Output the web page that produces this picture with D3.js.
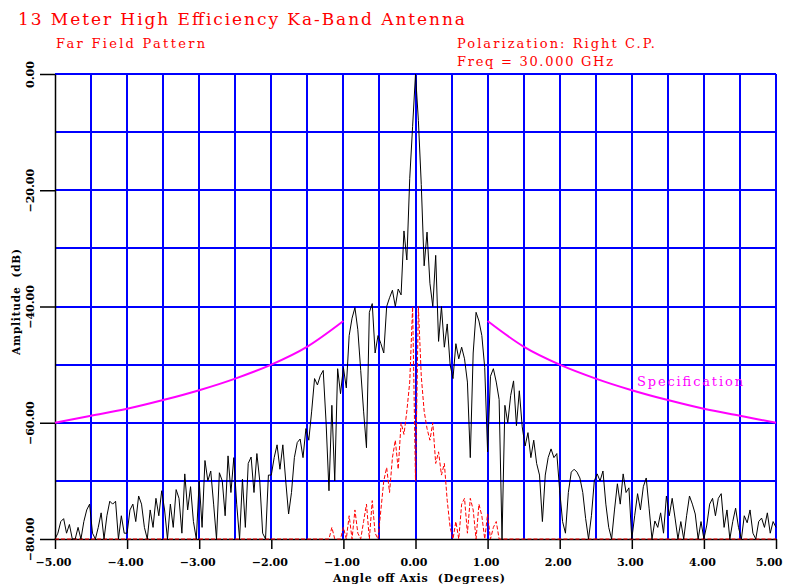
<!DOCTYPE html>
<meta charset="utf-8">
<script src="https://d3js.org/d3.v7.min.js"></script>
<style>
  body { margin: 0; background: #fff; }
  svg { display: block; }
</style>
<div id="chart"></div>
<script>
// axis ticks
const xTicks = [-5, -4, -3, -2, -1, 0, 1, 2, 3, 4, 5];
const yTicks = [0, -20, -40, -60, -80];

// co-pol far field pattern (dB), one sample every 0.04 deg starting at -5 deg
const coStart = -5, coStep = 0.04;
const coDb = [
  -80,-79,-77,-76.5,-79,-77.5,-80,-80,-78,-80,-77,-75,-74,-79,-80,-78,-75.5,-80,-76,-73.5,-74,-73.5,-80,-76,-79,
  -79,-75,-74,-77,-72.6,-74,-78,-80,-75,-78,-73,-76,-71.7,-75,-80,-74,-78,-71.5,-73,-79,-68.8,-75,-71,-77,-80,
  -70,-78,-66.5,-70,-68.3,-74,-80,-68.6,-70,-76,-65.7,-72,-66,-74,-80,-69.7,-78,-67,-65.9,-72,-65.3,-70,-79,-80,-69,
  -69,-66,-63.8,-68,-63.8,-70,-75.7,-72,-66,-63.4,-62.8,-66,-61,-63,-58,-52.4,-53.5,-51.9,-51,-60,-71.7,-57,-70,-50.7,-55,
  -50.5,-54,-45,-42,-40.2,-44,-51,-58,-64.3,-41,-39.5,-48,-45,-46.4,-48,-40,-38.5,-37.2,-40,-37,-38,-27,-32,-18,-9,0,
  -8,-19,-33,-27.2,-36,-40,-31.2,-46,-40,-47,-43,-50,-52.4,-46.4,-49,-47,-49,-53,-66,-48,-41,-42.5,-45,-50.5,-65,
  -52,-50.7,-53,-56,-80,-57,-60,-55.3,-52.8,-60.5,-54.5,-60.7,-64,-61.7,-66,-63,-67,-69,-77,-69,-66,-64.5,-66,-65.3,-71.7,
  -77,-79,-72,-68.5,-68,-68.5,-69.5,-72,-76.5,-80,-76,-70,-68.8,-70,-68.3,-74,-78,-80,-75,-70.5,-74,-68.8,-72,-71.2,-80,
  -76,-72.2,-75,-71,-69.5,-74.7,-80,-76.9,-78,-75.5,-79,-72.6,-76,-73,-76.4,-80,-77,-80,-76,-72.6,-74,-75.7,-80,-77,-80,
  -77.6,-74,-73,-76,-73,-72.2,-78,-75,-80,-77,-74.7,-78,-80,-76,-77.2,-75,-79,-80,-77,-76.4,-78,-75.5,-79,-77,-78
];

// cross-pol pattern (dB), every 0.04 deg from -1.2 to 1.2, floor elsewhere
const crossStart = -1.2, crossStep = 0.04, crossFloor = -80;
const crossDb = [
  -80,-78,-80,-80,-80,-78,-80,-76,-80,-75,-79,-80,-77,-74,-80,-73.4,-79,-80,-75,-70,-67.7,-72,-66,-63,-68,-60,-62,-58,-53,-40,
  -70,
  -40,-52,-58,-61,-63,-60,-67,-65,-69,-67,-73.4,-78,-80,-77,-80,-74,-73,-79,-73,-75,-80,-74,-76,-80,-75.7,-80,-78,-77,-80,-80
];

// specification envelope (dB) vs |angle|
const specAngle = [1, 1.5, 2, 2.5, 3, 3.5, 4, 4.5, 5];
const specDb = [-42.5, -46.9, -50.0, -52.4, -54.4, -56.1, -57.6, -58.8, -60.0];

const W = 786, H = 586;
const svg = d3.select("#chart").append("svg")
  .attr("width", W).attr("height", H)
  .style("background", "#fff");

const x = d3.scaleLinear().domain([-5, 5]).range([55, 776]);
const y = d3.scaleLinear().domain([-80, 0]).range([539, 74]);

const serif = "'DejaVu Serif', 'Liberation Serif', serif";

// blue grid
const grid = svg.append("g").attr("stroke", "#0000ff").attr("stroke-width", 2)
  .attr("shape-rendering", "crispEdges");
grid.selectAll("line.v").data(x.ticks(20).filter(d => d > -5))
  .join("line").attr("class", "v")
  .attr("x1", d => x(d)).attr("x2", d => x(d))
  .attr("y1", y(0)).attr("y2", y(-80));
grid.selectAll("line.h").data(y.ticks(8).filter(d => d > -80))
  .join("line").attr("class", "h")
  .attr("x1", x(-5)).attr("x2", x(5))
  .attr("y1", d => y(d)).attr("y2", d => y(d));

// axes
const xAxis = svg.append("g")
  .attr("transform", `translate(0,${y(-80)})`)
  .call(d3.axisBottom(x).tickValues(xTicks).tickSize(10).tickSizeOuter(0)
    .tickPadding(9).tickFormat(d3.format(".2f")));
const yAxis = svg.append("g")
  .attr("transform", `translate(${x(-5)},0)`)
  .call(d3.axisLeft(y).tickValues(yTicks).tickSize(15).tickSizeOuter(0)
    .tickFormat(d3.format(".2f")));

[xAxis, yAxis].forEach(g => {
  g.select(".domain").attr("stroke", "#000").attr("stroke-width", 1.5);
  g.selectAll(".tick line").attr("stroke", "#000").attr("stroke-width", 1.5);
  g.selectAll("text").attr("fill", "#000")
    .style("font-family", serif).style("font-weight", "bold").style("font-size", "11px");
});
xAxis.selectAll(".tick text").attr("dx", -2);
xAxis.selectAll(".tick:last-of-type text").attr("text-anchor", "end").attr("dx", 6);
yAxis.selectAll(".tick text")
  .attr("transform", "rotate(-90)")
  .attr("x", 0).attr("y", -21).attr("dy", 0)
  .attr("text-anchor", "middle");

// specification curve, both sides
const specLine = d3.line().curve(d3.curveMonotoneX)
  .x(d => x(d[0])).y(d => y(d[1]));
const specRight = specAngle.map((a, i) => [a, specDb[i]]);
const specLeft = specAngle.map((a, i) => [-a, specDb[i]]).reverse();
[specLeft, specRight].forEach(pts => {
  svg.append("path").datum(pts)
    .attr("fill", "none").attr("stroke", "#ff00ff").attr("stroke-width", 2)
    .attr("d", specLine);
});

const line = d3.line().x(d => x(d[0])).y(d => y(Math.max(-80, d[1])));

// cross-pol (red dashed)
const crossPts = [[-5, crossFloor]]
  .concat(crossDb.map((v, i) => [crossStart + i * crossStep, v]))
  .concat([[5, crossFloor]]);
svg.append("path").datum(crossPts)
  .attr("fill", "none").attr("stroke", "#ff0000").attr("stroke-width", 1)
  .attr("stroke-dasharray", "4,2")
  .attr("d", line);

// co-pol (black)
const coPts = coDb.map((v, i) => [coStart + i * coStep, v]);
svg.append("path").datum(coPts)
  .attr("fill", "none").attr("stroke", "#000").attr("stroke-width", 1)
  .attr("d", line);

// titles
const red = "#ff0000";
function label(txt, px, py, size, len, color) {
  svg.append("text").attr("x", px).attr("y", py).text(txt)
    .attr("fill", color).style("font-family", serif).style("font-size", size + "px")
    .attr("textLength", len).attr("lengthAdjust", "spacing");
}
label("13 Meter High Efficiency Ka-Band Antenna", 18, 25, 17, 447, red);
label("Far Field Pattern", 56, 48, 13, 149, red);
label("Polarization: Right C.P.", 457, 48, 13, 198, red);
label("Freq = 30.000 GHz", 457, 66, 13, 156, red);
label("Specification", 637, 386, 13, 106, "#ff00ff");

// axis titles
svg.append("text")
  .attr("transform", "translate(20,302) rotate(-90)")
  .attr("text-anchor", "middle")
  .style("white-space", "pre")
  .style("font-family", serif).style("font-weight", "bold").style("font-size", "10.5px")
  .attr("textLength", 106).attr("lengthAdjust", "spacing")
  .text("Amplitude  (dB)");
svg.append("text")
  .attr("x", 419).attr("y", 582)
  .attr("text-anchor", "middle")
  .style("white-space", "pre")
  .style("font-family", serif).style("font-weight", "bold").style("font-size", "11px")
  .attr("textLength", 172).attr("lengthAdjust", "spacing")
  .text("Angle off Axis  (Degrees)");
</script>
